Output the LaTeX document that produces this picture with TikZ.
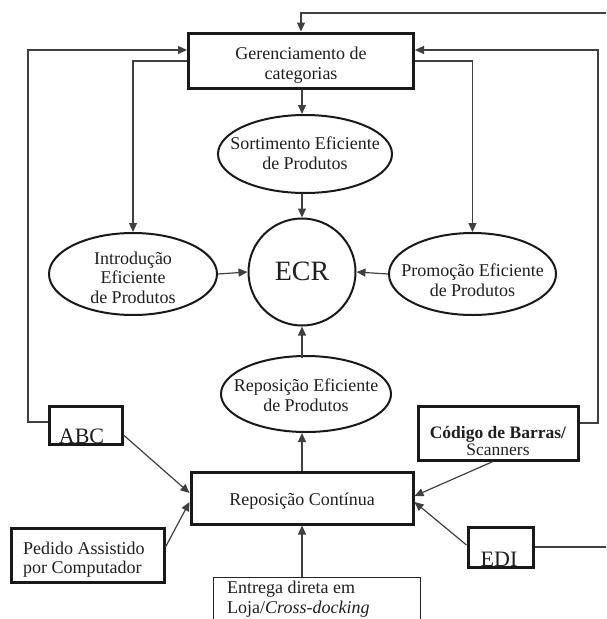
\documentclass[tikz,border=0pt]{standalone}
\usepackage{fontspec}
\setmainfont{Liberation Serif}
\usetikzlibrary{shapes.geometric,arrows.meta,calc}
\tikzset{
  conn/.style={draw=black!75, line width=1.2pt},
  arr/.style={conn, -{Triangle[length=9pt,width=8pt]}},
  bigbox/.style={draw=black!90, line width=3pt, rectangle, inner sep=0pt},
  thinbox/.style={draw=black!85, line width=1pt, rectangle, inner sep=0pt},
  ell/.style={draw=black!90, line width=2pt, ellipse, inner sep=0pt},
  txt/.style={font=\fontsize{18}{19.5}\selectfont, align=center, inner sep=0pt, text=black!88},
}
\begin{document}
\begin{tikzpicture}[x=1pt,y=-1pt]
\clip (0,0) rectangle (606,619);
\useasboundingbox (0,0) rectangle (606,619);

% text that sits under box borders
\node[txt, font=\fontsize{22}{24}\selectfont, anchor=base] (abcT) at (81.5,443) {ABC};
\node[txt, font=\fontsize{22}{24}\selectfont, anchor=base] (ediT) at (499,566) {EDI};

% boxes
\node[bigbox, minimum width=225pt, minimum height=55pt] (ger) at (301,60.5) {};
\node[bigbox, minimum width=73pt, minimum height=38pt] (abc) at (85.5,425) {};
\node[bigbox, minimum width=153pt, minimum height=54pt] (ped) at (87.5,555) {};
\node[bigbox, minimum width=160pt, minimum height=54pt] (cod) at (498,433) {};
\node[bigbox, minimum width=65pt, minimum height=40pt] (edi) at (500.5,547) {};
\node[bigbox, minimum width=222pt, minimum height=52pt] (rc) at (302,498) {};
\node[thinbox, anchor=north west, minimum width=207pt, minimum height=60pt] (ent) at (213,577) {};

% ellipses
\node[ell, minimum width=174pt, minimum height=78pt] (sort) at (305,154) {};
\node[ell, circle, minimum size=107pt] (ecr) at (302,272) {};
\node[ell, minimum width=168pt, minimum height=82pt] (intro) at (133,274) {};
\node[ell, minimum width=167pt, minimum height=82pt] (promo) at (472.5,274) {};
\node[ell, minimum width=170pt, minimum height=76pt] (repE) at (306,394) {};

% texts
\node[txt] (gerT) at (301,65) {Gerenciamento de\\categorias};
\node[txt] (sortT) at (305,153) {Sortimento Eficiente\\de Produtos};
\node[txt, font=\fontsize{28}{30}\selectfont] (ecrT) at (302,271) {ECR};
\node[txt] (introT) at (133,277.5) {Introdução\\Eficiente\\de Produtos};
\node[txt] (promoT) at (472.5,280) {Promoção Eficiente\\de Produtos};
\node[txt] (repET) at (306,395) {Reposição Eficiente\\de Produtos};
\node[txt] (rcT) at (302,501) {Reposição Contínua};
\node[txt, font=\fontsize{17.5}{16.5}\selectfont] (codT) at (498,441) {\textbf{Código de Barras/}\\Scanners};
\node[txt, align=left, anchor=west] (pedT) at (23,559.5) {Pedido Assistido\\por Computador};
\node[txt, align=left, anchor=west] (entT) at (227,599) {Entrega direta em\\Loja/\textit{Cross-docking}};

% free ends
\coordinate (topR) at (606,13);
\coordinate (leftX) at (28,0);
\coordinate (rightX) at (598,0);
\coordinate (ediR) at (606,547);

% feedback loops
\draw[arr] (topR) -| (ger.north);
\draw[arr] ([yshift=3pt]abc.west) -- ([yshift=3pt]abc.west -| leftX) |- ([yshift=10.5pt]ger.west);
\draw[arr] ([yshift=10pt]cod.east) -- ([yshift=10pt]cod.east -| rightX) |- ([yshift=10.5pt]ger.east);
\draw[arr] ([yshift=-0.5pt]ger.west) -| (intro.north);
\draw[arr] ([yshift=-0.5pt]ger.east) -| (promo.north);
\draw[conn] (edi.east) -- (ediR);

% central arrows
\draw[arr] (ger.south -| ecr.north) -- (sort.north -| ecr.north);
\draw[arr] (sort.south -| ecr.north) -- (ecr.north);
\draw[arr] (intro.east) -- (ecr.west);
\draw[arr] (promo.west) -- (ecr.east);
\draw[arr] (repE.south -| ecr.south) ++(0,-75) -- (ecr.south);
\draw[arr] (rc.north) -- (rc.north |- repE.south);
\draw[arr] (ent.north -| rc.south) -- (rc.south);

% inputs to Reposição Contínua
\draw[arr] ([yshift=-10pt]abc.east) -- ([yshift=5pt]rc.west);
\draw[arr] ([yshift=8pt]ped.east) -- ([yshift=-4pt]rc.west);
\draw[arr] ([xshift=-5pt]cod.south) -- ([yshift=2pt]rc.east);
\draw[arr] ([yshift=2pt]edi.west) -- ([yshift=-4pt]rc.east);
\end{tikzpicture}
\end{document}
